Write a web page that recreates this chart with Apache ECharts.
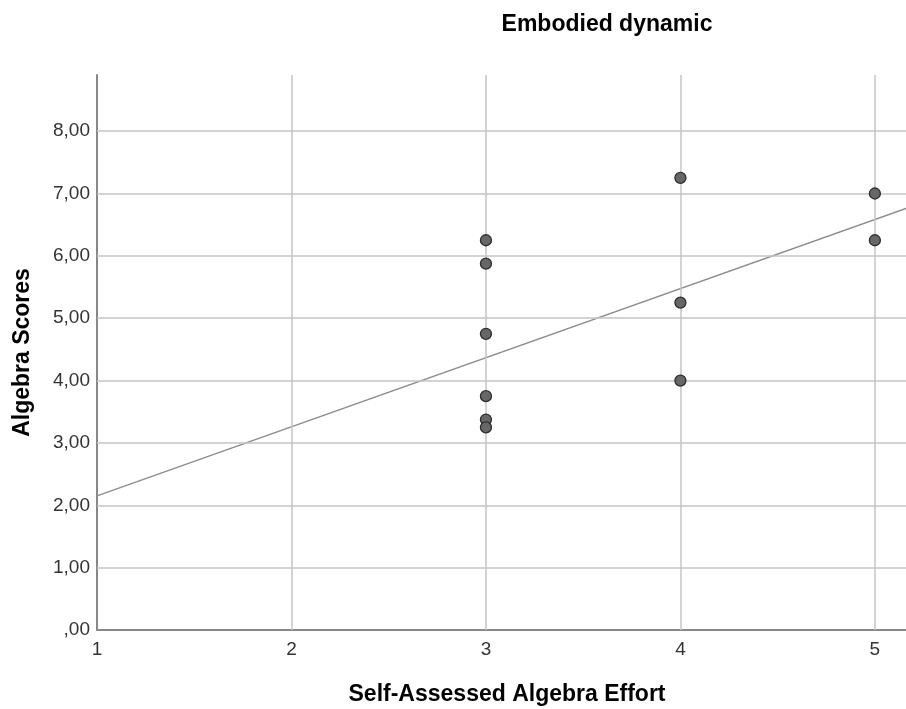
<!DOCTYPE html>
<html><head><meta charset="utf-8">
<script src="https://cdn.jsdelivr.net/npm/echarts@6/dist/echarts.min.js"></script>
<style>html,body{margin:0;padding:0;background:#fff;overflow:hidden}#c{width:906px;height:709px}</style>
</head><body><div id="c"></div>
<script>
const titleText = 'Embodied dynamic';
const xName = 'Self-Assessed Algebra Effort';
const yName = 'Algebra Scores';
const effort = [3, 3, 3, 3, 3, 3, 4, 4, 4, 5, 5];
const scores = [6.25, 5.875, 4.75, 3.75, 3.375, 3.25, 7.25, 5.25, 4.0, 7.0, 6.25];
const fitLine = [[1, 2.15], [5.16, 6.76]];
const xTicks = [1, 2, 3, 4, 5];
const yTicks = [0, 1, 2, 3, 4, 5, 6, 7, 8];
const xRange = [1, 5.16];
const yRange = [0, 8.9];

const chart = echarts.init(document.getElementById('c'));
const font = 'Liberation Sans, Arial, sans-serif';
const fmtY = v => {
  const s = v.toFixed(2).replace('.', ',');
  return s.startsWith('0,') ? s.slice(1) : s;
};
chart.setOption({
  animation: false,
  title: { text: titleText, left: 602, top: 8, textAlign: 'center',
    textStyle: { fontFamily: font, fontSize: 23, fontWeight: 'bold', color: '#000' } },
  grid: { left: 97, right: 0, top: 75, bottom: 79, containLabel: false, outerBoundsMode: 'none' },
  xAxis: {
    type: 'value', min: xRange[0], max: xRange[1], interval: 1,
    name: xName, nameLocation: 'middle', nameGap: 53,
    nameTextStyle: { fontFamily: font, fontSize: 23, fontWeight: 'bold', color: '#000', padding: [0, 0, 0, 11] },
    axisLine: { lineStyle: { color: '#888', width: 2 } },
    axisTick: { show: false },
    axisLabel: { fontFamily: font, fontSize: 19, color: '#333', margin: 10,
      formatter: v => xTicks.includes(v) ? String(v) : '' },
    splitLine: { show: false }
  },
  yAxis: {
    type: 'value', min: yRange[0], max: yRange[1], interval: 1,
    name: yName, nameLocation: 'middle', nameGap: 63, nameRotate: 90,
    nameTextStyle: { fontFamily: font, fontSize: 23, fontWeight: 'bold', color: '#000' },
    axisLine: { show: true, lineStyle: { color: '#888', width: 2 } },
    axisTick: { show: false },
    axisLabel: { fontFamily: font, fontSize: 19, color: '#333', margin: 7,
      formatter: v => yTicks.includes(v) ? fmtY(v) : '' },
    splitLine: { show: false }
  },
  series: [
    {
      type: 'line', data: [], silent: true, z: 1,
      markLine: {
        silent: true, symbol: 'none', label: { show: false }, animation: false,
        lineStyle: { color: '#c4c4c4', width: 1.5, type: 'solid' },
        data: [
          ...yTicks.filter(v => v > 0).map(v => ({ yAxis: v })),
          ...xTicks.filter(v => v > 1).map(v => ({ xAxis: v }))
        ]
      }
    },
    {
      type: 'line', data: fitLine, symbol: 'none', silent: true, z: 2,
      lineStyle: { color: '#8c8c8c', width: 1.3 }
    },
    {
      type: 'scatter', data: effort.map((x, i) => [x, scores[i]]), z: 5,
      symbolSize: 11,
      itemStyle: { color: '#676767', borderColor: '#2e2e2e', borderWidth: 1.3, opacity: 1 }
    }
  ]
});
</script></body></html>
